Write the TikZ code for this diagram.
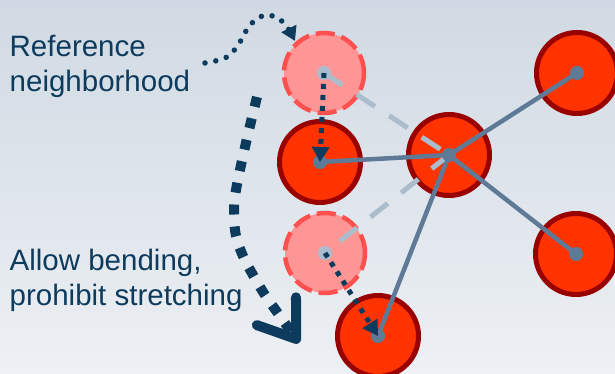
\documentclass[tikz,border=0pt]{standalone}
\usepackage{fontspec}
\setmainfont{Liberation Sans}
\usetikzlibrary{arrows.meta}
\definecolor{bgtop}{HTML}{D0D9E3}
\definecolor{bgbot}{HTML}{EDF0F4}
\definecolor{redfill}{HTML}{FF3300}
\definecolor{redline}{HTML}{990000}
\definecolor{pinkfill}{HTML}{FF9696}
\definecolor{pinkline}{HTML}{FF5050}
\definecolor{steel}{HTML}{5E7A96}
\definecolor{lightsteel}{HTML}{ABBDCD}
\definecolor{navy}{HTML}{0D3B5E}
\tikzset{
  redball/.style={circle, minimum size=81pt, inner sep=0pt, fill=redfill, draw=redline, line width=5pt},
  pinkball/.style={circle, minimum size=80pt, inner sep=0pt, fill=pinkfill, draw=pinkline, line width=4.5pt, dash pattern=on 19pt off 7pt},
  link/.style={draw=steel, line width=4.5pt},
  ghostlink/.style={draw=lightsteel, line width=5pt, dash pattern=on 22pt off 17pt},
  hub/.style={circle, fill=steel, minimum size=14pt, inner sep=0pt},
  ghosthub/.style={circle, fill=lightsteel, minimum size=14pt, inner sep=0pt},
  dotarrow/.style={draw=navy, line width=5pt, dash pattern=on 5pt off 6pt, -{Triangle[length=15pt,width=17pt]}},
  rounddots/.style={draw=navy, line width=5.5pt, line cap=round, dash pattern=on 0pt off 11pt, -{Triangle[length=14pt,width=16pt]}},
  bigarrow/.style={draw=navy, line width=10pt, dash pattern=on 10pt off 12pt, -{Straight Barb[round, length=34pt, width=48pt]}},
  lbl/.style={font=\fontsize{29.5pt}{35pt}\selectfont, text=navy, align=left, inner sep=0pt}
}
\begin{document}
\begin{tikzpicture}[x=1pt, y=-1pt]
\useasboundingbox (0,0) rectangle (615,374);
\shade[top color=bgtop, bottom color=bgbot] (0,0) rectangle (615,374);
% balls
\node[redball] (A) at (320,162) {};
\node[redball] (C) at (449,155) {};
\node[redball] (TR) at (577,73) {};
\node[redball] (BR) at (576,254) {};
\node[redball] (BB) at (378,336) {};
\node[pinkball] (PT) at (324,73) {};
\node[pinkball] (PB) at (325,253) {};
% links
\draw[link] (C.center) -- (A.center);
\draw[link] (C.center) -- (TR.center);
\draw[link] (C.center) -- (BR.center);
\draw[link] (C.center) -- (BB.center);
\draw[ghostlink] (PT.center) -- (C.center);
\draw[ghostlink] (C.center) -- (PB.center);
% hubs
\node[hub] (hA) at (A.center) {};
\node[hub] (hC) at (C.center) {};
\node[hub] (hTR) at (TR.center) {};
\node[hub] (hBR) at (BR.center) {};
\node[hub] (hBB) at (BB.center) {};
\node[ghosthub] (hPT) at (PT.center) {};
\node[ghosthub] (hPB) at (PB.center) {};
% dotted arrows
\draw[dotarrow] (PT.center) -- (A.center);
\draw[dotarrow] (PB.center) -- (BB.center);
% labels
\node[lbl, anchor=base west] (t1) at (9.5,92) {Reference\\neighborhood};
\node[lbl, anchor=base west] (t2) at (9.5,305) {Allow bending,\\prohibit stretching};
% curved dotted arrow
\draw[rounddots] plot[smooth, tension=0.6] coordinates {(205,63) (227,57) (240,42) (250,25) (266,15) (283,22) (295,41)};
% big dashed arrow
\draw[bigarrow] plot[smooth, tension=0.6] coordinates {(257,97) (245,147) (236,190) (234,213) (236,236) (243,256) (253,275) (265,295) (277,312) (299,343)};
\end{tikzpicture}
\end{document}
